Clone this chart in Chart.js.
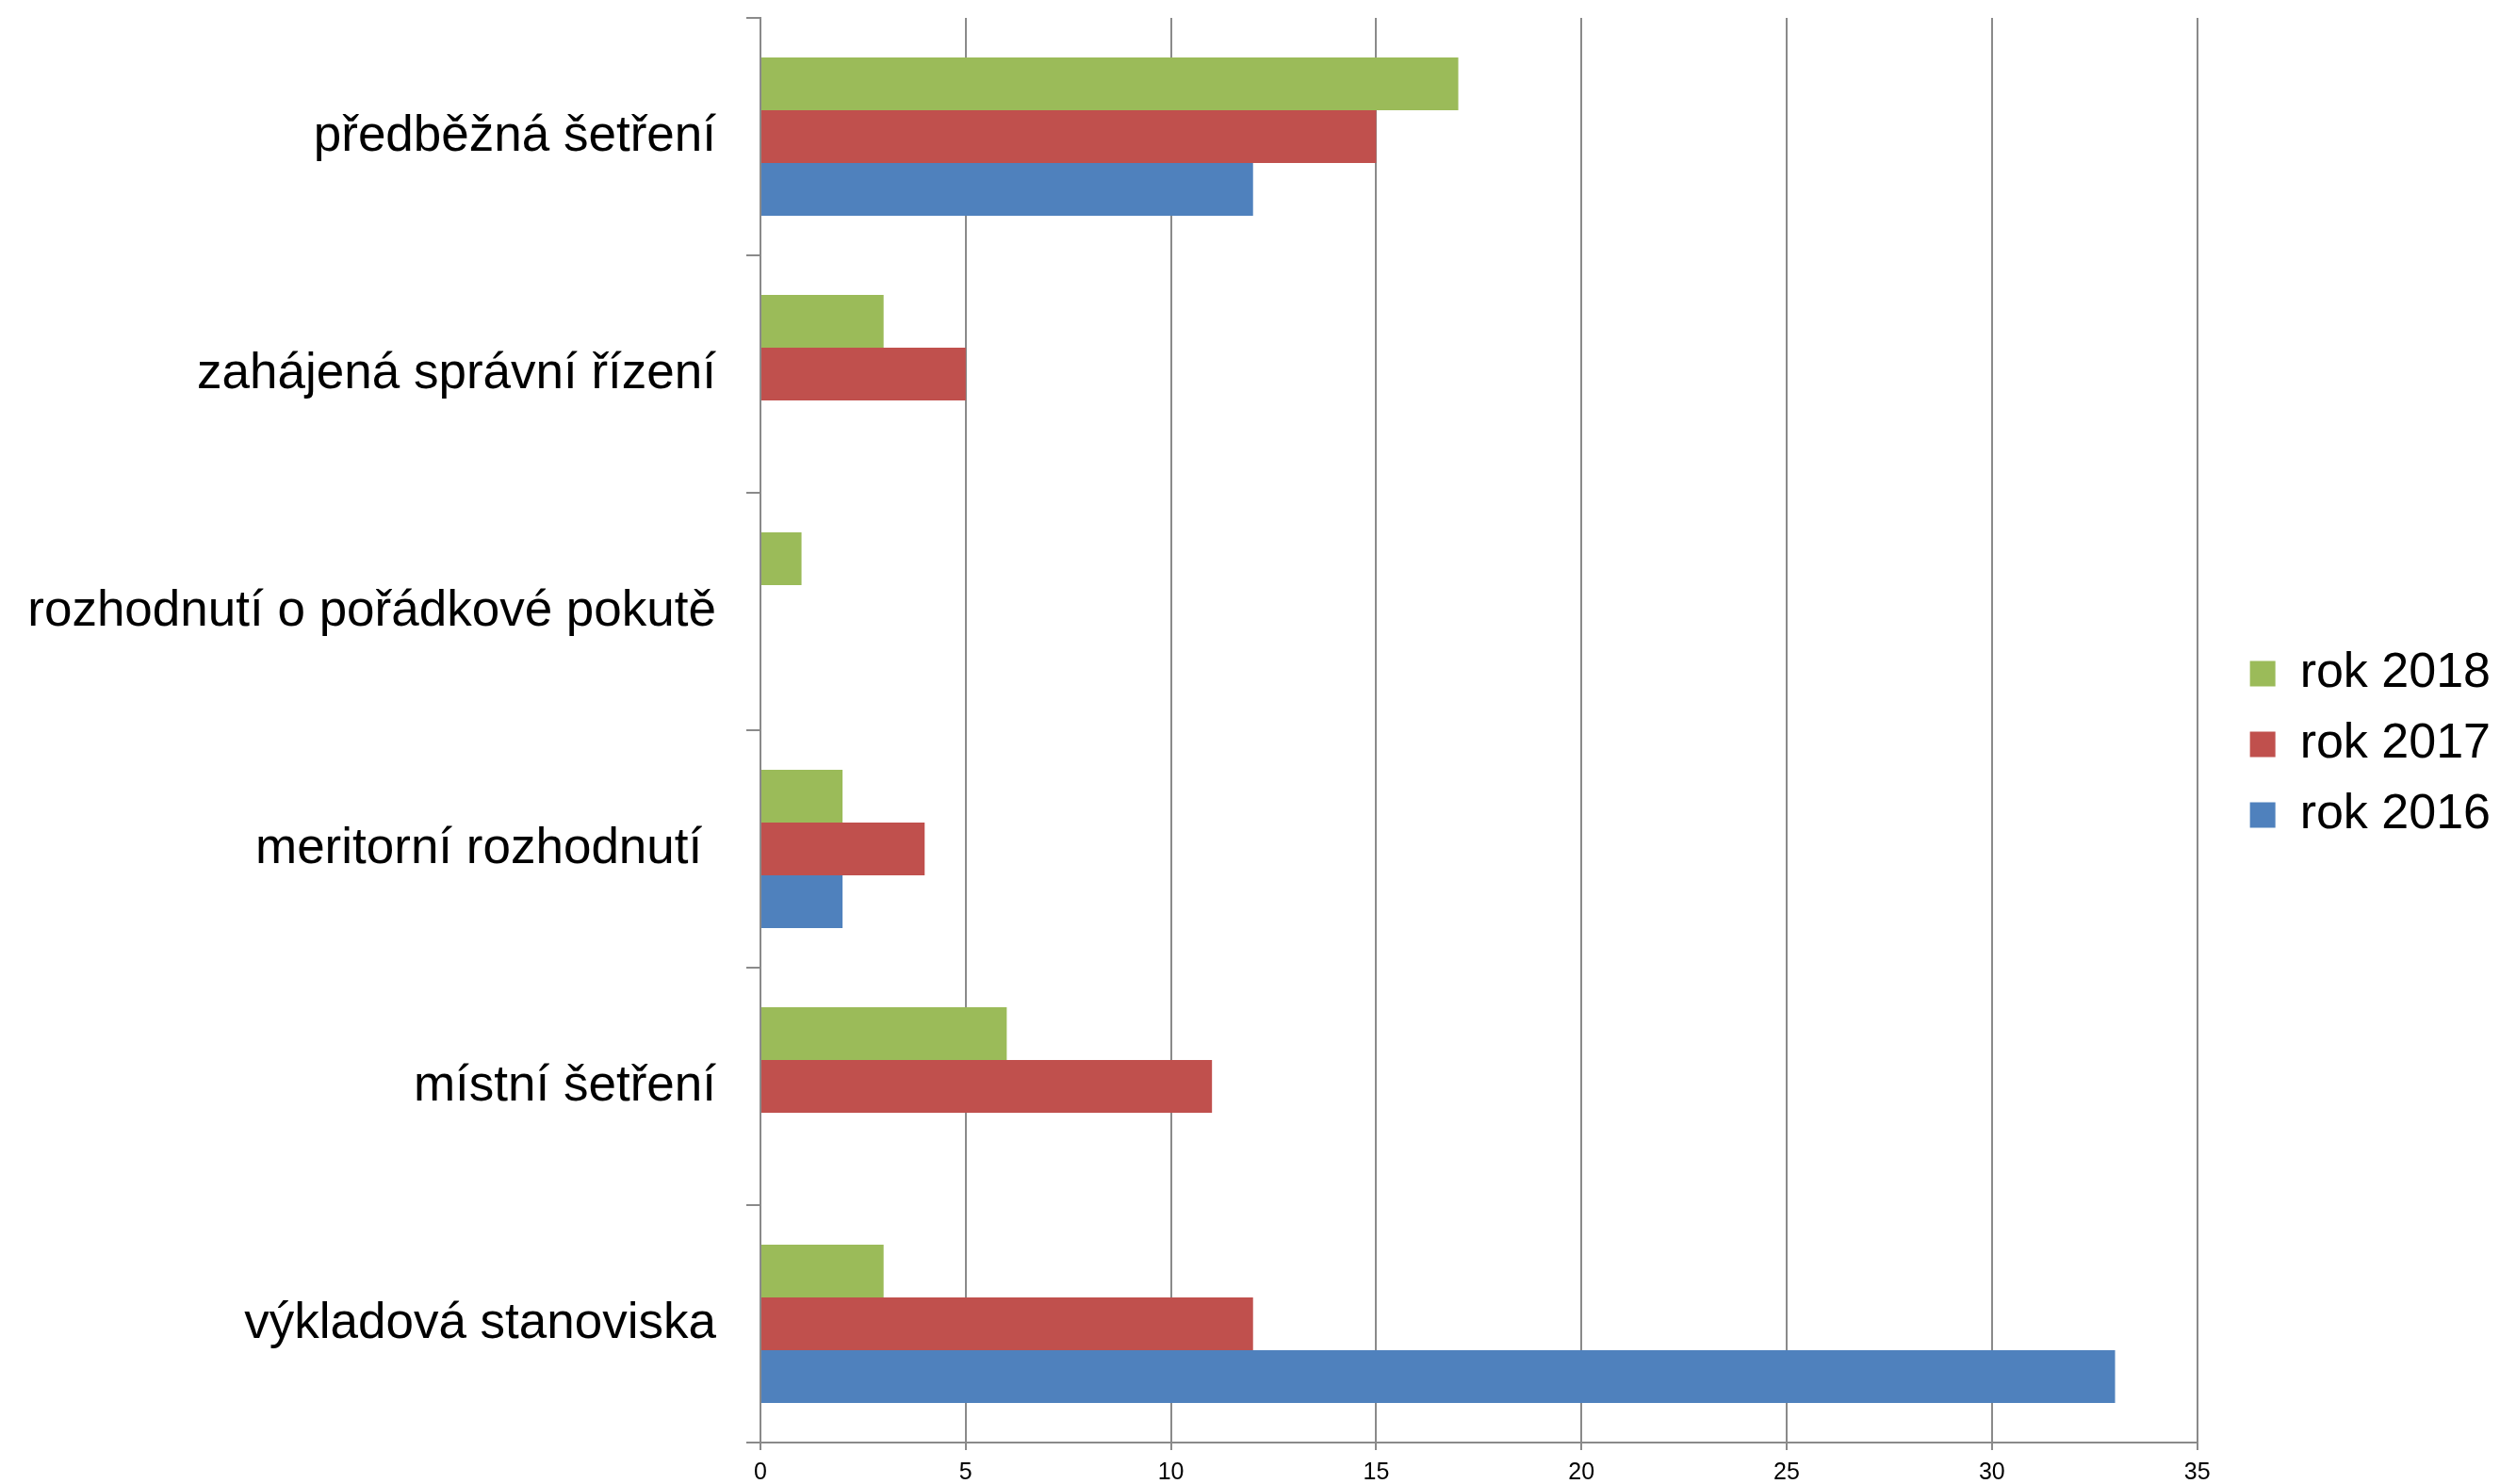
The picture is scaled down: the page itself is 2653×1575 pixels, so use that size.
<!DOCTYPE html>
<html>
<head>
<meta charset="utf-8">
<script src="https://cdn.jsdelivr.net/npm/chart.js@4/dist/chart.umd.min.js"></script>
<style>
  html, body { margin: 0; padding: 0; background: #fff; }
  canvas { display: block; }
</style>
</head>
<body>
<canvas id="chart" width="2653" height="1575"></canvas>
<script>
// categories top to bottom
const categories = [
  "předběžná šetření",
  "zahájená správní řízení",
  "rozhodnutí o pořádkové pokutě",
  "meritorní rozhodnutí ",
  "místní šetření",
  "výkladová stanoviska"
];
const years = ["rok 2018", "rok 2017", "rok 2016"];
const values2018 = [17, 3, 1, 2, 6, 3];
const values2017 = [15, 5, null, 4, 11, 12];
const values2016 = [12, null, null, 2, null, 33];
const colors = ["#9BBB59", "#C0504D", "#4F81BD"];
const xTicks = [0, 5, 10, 15, 20, 25, 30, 35];

const fontFamily = "'Liberation Sans', Arial, sans-serif";
const gridColor = "#8a8a8a";

const series = [values2018, values2017, values2016];

// nudge the legend up a little, it sits centred on the whole canvas height
const legendNudge = {
  id: "legendNudge",
  afterLayout(chart) {
    chart.legend.top -= 7;
    chart.legend.bottom -= 7;
  }
};

new Chart(document.getElementById("chart"), {
  type: "bar",
  data: {
    labels: categories,
    datasets: series.map((vals, i) => ({
      label: years[i],
      data: vals,
      backgroundColor: colors[i],
      borderWidth: 0,
      yAxisID: "y",
      categoryPercentage: 0.667,
      barPercentage: 1
    }))
  },
  options: {
    indexAxis: "y",
    responsive: false,
    devicePixelRatio: 1,
    animation: false,
    layout: { padding: { top: 19, bottom: 0, left: 0, right: 0 } },
    plugins: {
      tooltip: { enabled: false },
      legend: {
        position: "right",
        labels: {
          boxWidth: 27,
          boxHeight: 27,
          padding: 23,
          color: "#000",
          font: { family: fontFamily, size: 52 }
        }
      }
    },
    scales: {
      y: {
        type: "category",
        position: "left",
        afterFit: s => {
          s.width = 807;
          s.paddingTop = 0;
          s.paddingBottom = 0;
        },
        grid: {
          drawOnChartArea: false,
          color: gridColor,
          lineWidth: 2,
          tickLength: 15
        },
        border: { color: gridColor, width: 2 },
        ticks: {
          color: "#000",
          padding: 32,
          font: { family: fontFamily, size: 53 }
        }
      },
      x: {
        min: 0,
        max: 35,
        afterFit: s => { s.height = 44; },
        afterBuildTicks: s => { s.ticks = xTicks.map(v => ({ value: v })); },
        grid: {
          color: gridColor,
          lineWidth: 2,
          tickLength: 8
        },
        border: { color: gridColor, width: 2 },
        ticks: {
          color: "#000",
          padding: 9,
          maxRotation: 0,
          font: { family: fontFamily, size: 25 }
        }
      },
      spacer: {
        type: "linear",
        axis: "y",
        position: "right",
        display: true,
        afterFit: s => {
          s.width = 33;
          s.paddingTop = 0;
          s.paddingBottom = 0;
        },
        grid: { display: false },
        border: { display: false },
        ticks: { display: false }
      }
    }
  },
  plugins: [legendNudge]
});
</script>
</body>
</html>
